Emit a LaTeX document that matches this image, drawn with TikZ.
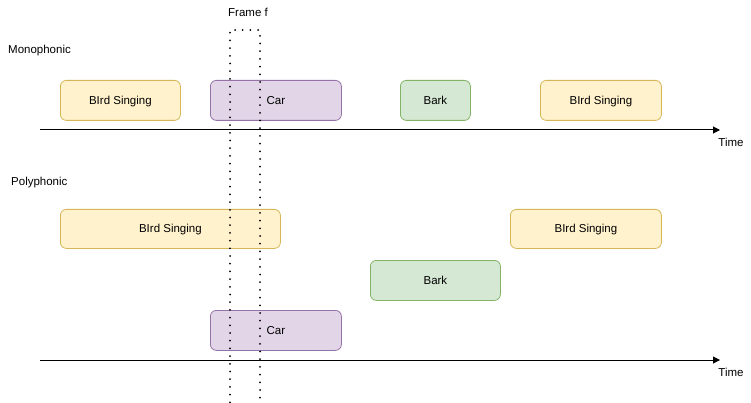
\documentclass[tikz,border=0pt]{standalone}
\usepackage{fontspec}
\setmainfont{Liberation Sans}
\usetikzlibrary{arrows.meta}
\definecolor{yfill}{HTML}{FFF2CC}\definecolor{ydraw}{HTML}{D6B656}
\definecolor{pfill}{HTML}{E1D5E7}\definecolor{pdraw}{HTML}{9673A6}
\definecolor{gfill}{HTML}{D5E8D4}\definecolor{gdraw}{HTML}{82B366}
\tikzset{
  evbox/.style={rounded corners=6pt, line width=0.8pt, font=\fontsize{11.5}{13}\selectfont, inner sep=0pt, anchor=north west, text depth=0pt, text height=8pt},
  bird/.style={evbox, fill=yfill, draw=ydraw},
  car/.style={evbox, fill=pfill, draw=pdraw},
  bark/.style={evbox, fill=gfill, draw=gdraw},
  lbl/.style={font=\fontsize{11.5}{13}\selectfont, inner sep=0pt, yshift=-1pt},
  axis/.style={line width=1pt, -{Triangle[length=7pt,width=7pt]}},
  framef/.style={line width=2pt, line cap=round, dash pattern=on 0pt off 7.7pt}
}
\begin{document}
\begin{tikzpicture}[x=1pt,y=-1pt]
\useasboundingbox (0,0) rectangle (751,403);
% monophonic
\node[lbl, anchor=west] (mono) at (8,50) {Monophonic};
\node[bird, minimum width=120pt, minimum height=40pt] (b1) at (60,80) {BIrd Singing};
\node[car, minimum width=131pt, minimum height=40pt] (c1) at (210,80) {Car};
\node[bark, minimum width=70pt, minimum height=40pt] (k1) at (400,80) {Bark};
\node[bird, minimum width=121pt, minimum height=40pt] (b2) at (540,80) {BIrd Singing};
\coordinate (a1s) at (40,130);
\coordinate (a1e) at (720,130);
\draw[axis] (a1s) -- (a1e);
\node[lbl] (t1) at (731,141) {Time};
% polyphonic
\node[lbl, anchor=west] (poly) at (11,182) {Polyphonic};
\node[bird, minimum width=220pt, minimum height=39pt] (b3) at (60,209) {BIrd Singing};
\node[bird, minimum width=151pt, minimum height=39pt] (b4) at (510,209) {BIrd Singing};
\node[bark, minimum width=130pt, minimum height=40pt] (k2) at (370,260) {Bark};
\node[car, minimum width=131pt, minimum height=40pt] (c2) at (210,310) {Car};
\coordinate (a2s) at (40,360);
\coordinate (a2e) at (720,360);
\draw[axis] (a2s) -- (a2e);
\node[lbl] (t2) at (731,371) {Time};
% frame
\coordinate (fbl) at (230,410);
\coordinate (ftl) at (230,30);
\coordinate (ftr) at (260,30);
\coordinate (fbr) at (260,410);
\draw[framef] (fbl) -- (ftl) -- (ftr) -- (fbr);
\node[lbl] (ff) at (248,11) {Frame f};
\end{tikzpicture}
\end{document}
